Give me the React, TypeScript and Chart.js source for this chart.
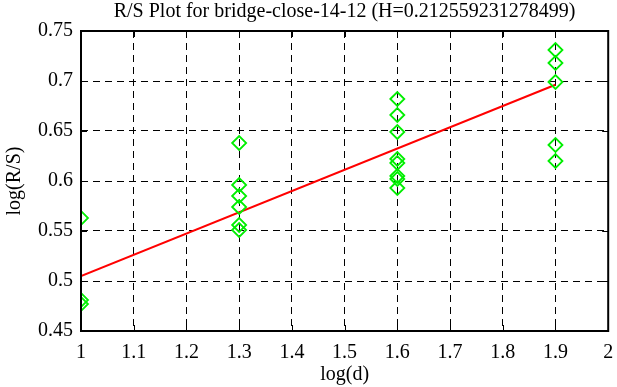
import React, { useEffect, useRef } from "react";
import { Chart, registerables } from "chart.js";

Chart.register(...registerables);

const titleText = "R/S Plot for bridge-close-14-12 (H=0.212559231278499)";
const xTitle = "log(d)";
const yTitle = "log(R/S)";

const xTicks = [1, 1.1, 1.2, 1.3, 1.4, 1.5, 1.6, 1.7, 1.8, 1.9, 2];
const yTicks = [0.45, 0.5, 0.55, 0.6, 0.65, 0.7, 0.75];
const xTickLabels = ["1", "1.1", "1.2", "1.3", "1.4", "1.5", "1.6", "1.7", "1.8", "1.9", "2"];
const yTickLabels = ["0.45", "0.5", "0.55", "0.6", "0.65", "0.7", "0.75"];

const logD = [1, 1, 1, 1.3, 1.3, 1.3, 1.3, 1.3, 1.3, 1.6, 1.6, 1.6, 1.6, 1.6, 1.6, 1.6, 1.6, 1.9, 1.9, 1.9, 1.9, 1.9];
const logRS = [0.563, 0.481, 0.477, 0.638, 0.596, 0.585, 0.574, 0.556, 0.551, 0.682, 0.666, 0.649, 0.622, 0.618, 0.605, 0.602, 0.593, 0.731, 0.718, 0.699, 0.636, 0.620];

const fitX = [1, 1.9];
const fitY = [0.505, 0.6963];

const FONT = "'Liberation Serif', 'DejaVu Serif', serif";

const framePlugin = {
  id: "frameTicks",
  afterDatasetsDraw(chart: any) {
    const { ctx, chartArea, scales } = chart;
    const { left, right, top, bottom } = chartArea;
    ctx.save();
    ctx.strokeStyle = "#000";
    ctx.lineWidth = 1;
    const tl = 6;
    ctx.beginPath();
    scales.x.ticks.forEach((t: any) => {
      const px = Math.round(scales.x.getPixelForValue(t.value)) + 0.5;
      ctx.moveTo(px, bottom);
      ctx.lineTo(px, bottom - tl);
      ctx.moveTo(px, top);
      ctx.lineTo(px, top + tl);
    });
    scales.y.ticks.forEach((t: any) => {
      const py = Math.round(scales.y.getPixelForValue(t.value)) + 0.5;
      ctx.moveTo(left, py);
      ctx.lineTo(left + tl, py);
      ctx.moveTo(right, py);
      ctx.lineTo(right - tl, py);
    });
    ctx.stroke();
    ctx.lineWidth = 2;
    ctx.strokeRect(left, top, right - left, bottom - top);
    ctx.restore();
  },
};

export default function App() {
  const ref = useRef<HTMLCanvasElement>(null);
  useEffect(() => {
    const points = logD.map((x, i) => ({ x, y: logRS[i] }));
    const fit = fitX.map((x, i) => ({ x, y: fitY[i] }));
    const chart = new Chart(ref.current as HTMLCanvasElement, {
      type: "scatter",
      data: {
        datasets: [
          {
            type: "line",
            data: fit,
            xAxisID: "x",
            yAxisID: "y",
            borderColor: "#ff0000",
            borderWidth: 2,
            pointRadius: 0,
            fill: false,
            order: 2,
          },
          {
            data: points,
            xAxisID: "x",
            yAxisID: "y",
            pointStyle: "rectRot",
            pointRadius: 7,
            pointBorderColor: "#00ee00",
            pointBackgroundColor: "rgba(0,0,0,0)",
            pointBorderWidth: 1.8,
            order: 1,
          } as any,
        ],
      },
      options: {
        animation: false,
        responsive: false,
        layout: { padding: 0 },
        plugins: {
          legend: { display: false },
          tooltip: { enabled: false },
          title: { display: false },
        },
        scales: {
          x: {
            type: "linear",
            position: "bottom",
            min: 1,
            max: 2,
            afterBuildTicks: (s: any) => {
              s.ticks = xTicks.map((v) => ({ value: v }));
            },
            afterFit: (s: any) => {
              s.height = 56;
              s.paddingLeft = 0;
              s.paddingRight = 0;
            },
            ticks: {
              color: "#000",
              font: { family: FONT, size: 20 },
              padding: 10,
              maxRotation: 0,
              callback: (v: any) => {
                const i = xTicks.findIndex((t) => Math.abs(t - v) < 1e-9);
                return i >= 0 ? xTickLabels[i] : "";
              },
            },
            grid: {
              color: "#000",
              lineWidth: 1,
              drawTicks: false,
            },
            border: { display: false, dash: [7, 5] },
            title: {
              display: true,
              text: xTitle,
              color: "#000",
              font: { family: FONT, size: 20 },
              padding: { top: 0, bottom: 0 },
            },
          },
          top: {
            type: "linear",
            position: "top",
            min: 1,
            max: 2,
            afterFit: (s: any) => {
              s.height = 31;
              s.paddingLeft = 0;
              s.paddingRight = 0;
            },
            ticks: { display: false },
            grid: { display: false, drawTicks: false },
            border: { display: false },
            title: {
              display: true,
              text: titleText,
              color: "#000",
              font: { family: FONT, size: 20 },
              padding: { top: 0, bottom: 0 },
            },
          },
          y: {
            type: "linear",
            position: "left",
            min: 0.45,
            max: 0.75,
            afterBuildTicks: (s: any) => {
              s.ticks = yTicks.map((v) => ({ value: v }));
            },
            afterFit: (s: any) => {
              s.width = 81;
              s.paddingTop = 0;
              s.paddingBottom = 0;
            },
            ticks: {
              color: "#000",
              font: { family: FONT, size: 20 },
              padding: 8,
              callback: (v: any) => {
                const i = yTicks.findIndex((t) => Math.abs(t - v) < 1e-9);
                return i >= 0 ? yTickLabels[i] : "";
              },
            },
            grid: {
              color: "#000",
              lineWidth: 1,
              drawTicks: false,
            },
            border: { display: false, dash: [7, 5] },
            title: {
              display: true,
              text: yTitle,
              color: "#000",
              font: { family: FONT, size: 20 },
              padding: { top: 3, bottom: 0 },
            },
          },
          right: {
            type: "linear",
            position: "right",
            min: 0.45,
            max: 0.75,
            afterFit: (s: any) => {
              s.width = 7;
              s.paddingTop = 0;
              s.paddingBottom = 0;
            },
            ticks: { display: false },
            grid: { display: false, drawTicks: false },
            border: { display: false },
          },
        },
      },
      plugins: [framePlugin],
    });
    return () => chart.destroy();
  }, []);
  return (
    <div style={{ position: "fixed", left: 0, top: 0, width: 617, height: 387, background: "#fff" }}>
      <canvas ref={ref} width={617} height={387} style={{ width: 617, height: 387 }} />
    </div>
  );
}
